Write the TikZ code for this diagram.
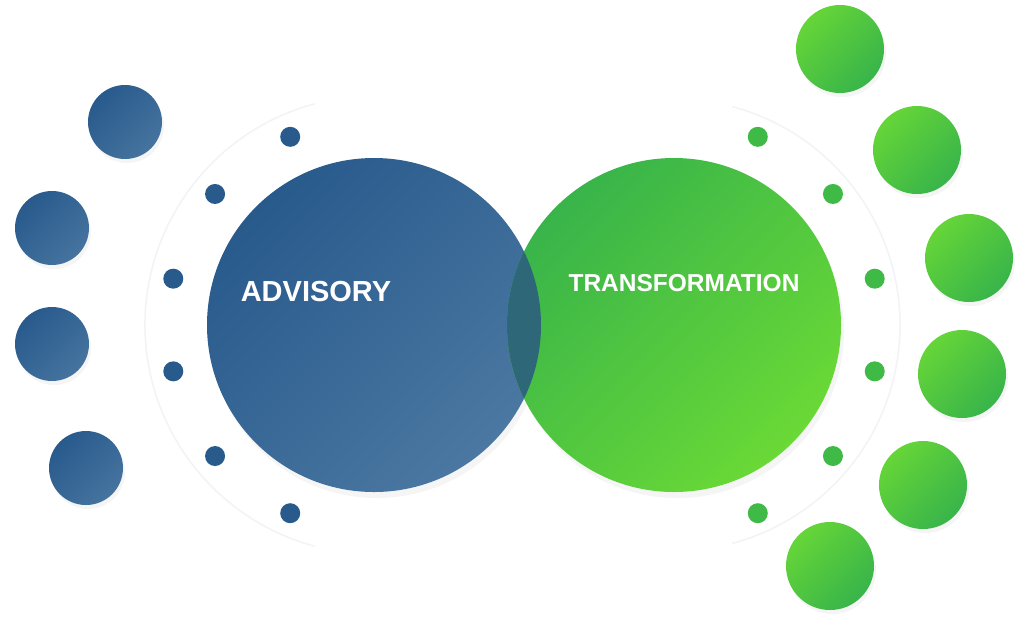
\documentclass[tikz,border=0pt]{standalone}
\usepackage{fontspec}
\setmainfont{Liberation Sans}
\usetikzlibrary{shadows}

\definecolor{advblue}{HTML}{285A8C}
\definecolor{advbluelt}{HTML}{4B78A2}
\definecolor{trgreen}{HTML}{38B44A}
\definecolor{trgreenlt}{HTML}{6AD936}
\definecolor{overlap}{HTML}{2E6878}
\definecolor{ringgray}{HTML}{F1F3F6}

\begin{document}
\begin{tikzpicture}[x=1pt,y=-1pt,
   big/.style={circle, inner sep=0pt, minimum size=334pt,
      drop shadow={shadow xshift=3pt, shadow yshift=-6pt, opacity=0.08}},
   outer/.style={circle, inner sep=0pt, minimum size=#1,
      drop shadow={shadow xshift=2pt, shadow yshift=-4pt, opacity=0.08}},
   bdot/.style={circle, inner sep=0pt, minimum size=20pt, fill=advblue},
   gdot/.style={circle, inner sep=0pt, minimum size=20pt, fill=trgreen!85!trgreenlt},
   ring/.style={draw=ringgray, line width=1.5pt},
   title/.style={text=white, font=\bfseries}]
   \fill[white] (0,0) rectangle (1024,625);
   \useasboundingbox (0,0) rectangle (1024,625);

   \coordinate (cblue) at (374,325);
   \coordinate (cgreen) at (674,325);

   % faint rings
   \draw[ring] ([shift={(105:229pt)}]cblue) arc[start angle=105, end angle=255, radius=229pt];
   \draw[ring] ([shift={(75:226pt)}]cgreen) arc[start angle=75, end angle=-75, radius=226pt];

   % outer circles
   \foreach \p [count=\i] in {(125,122),(52,228),(52,344),(86,468)}
      \node[outer=74pt, top color=advblue, bottom color=advbluelt!85!advblue,
            shading angle=45] (bout\i) at \p {};
   \foreach \p [count=\i] in {(840,49),(917,150),(969,258),(962,374),(923,485),(830,566)}
      \node[outer=88pt, top color=trgreenlt!90!trgreen, bottom color=trgreen,
            shading angle=45] (gout\i) at \p {};

   % small dots
   \foreach \a [count=\i] in {114,140.5,167,193,219.5,246}
      \node[bdot] (bd\i) at ([shift={(\a:206pt)}]cblue) {};
   \foreach \a [count=\i] in {66,39.5,13,-13,-39.5,-66}
      \node[gdot] (gd\i) at ([shift={(\a:206pt)}]cgreen) {};

   % main circles
   \node[big, top color=advblue, bottom color=advbluelt, shading angle=45] (advisory) at (cblue) {};
   \node[big, top color=trgreen, bottom color=trgreenlt, shading angle=45] (transform) at (cgreen) {};
   \begin{scope}
      \clip (cblue) circle[radius=167pt];
      \fill[overlap] (cgreen) circle[radius=167pt];
   \end{scope}

   \node[title, font=\bfseries\fontsize{29}{31}\selectfont] (advtxt) at (316,292) {ADVISORY};
   \node[title, font=\bfseries\fontsize{24.5}{27}\selectfont] (trtxt) at (684,283) {TRANSFORMATION};
\end{tikzpicture}
\end{document}
